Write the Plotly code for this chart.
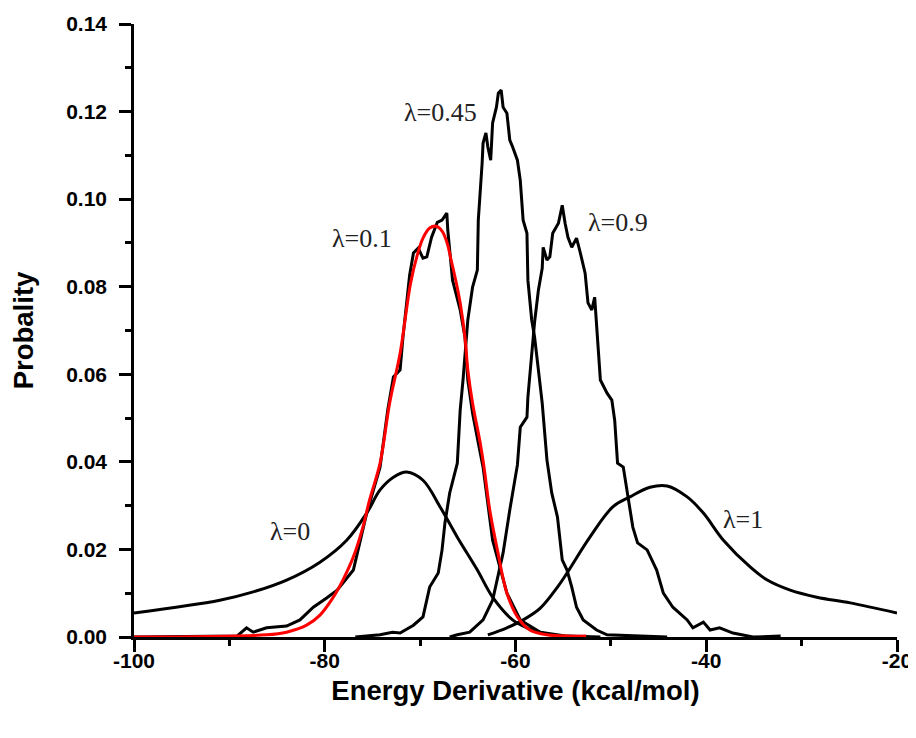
import plotly.graph_objects as go

# ---- data ----
lam0_x = [-100, -91.0, -87.5, -84.0, -80.5, -77.7, -75.6, -74.2, -72.8, -71.4, -69.7, -67.9,
          -66.1, -64.0, -62.4, -60.3, -58.8, -56.4]
lam0_y = [0.0055, 0.0084, 0.0103, 0.0130, 0.0171, 0.0221, 0.0283, 0.0336, 0.0365, 0.0377, 0.0358, 0.0297,
          0.0228, 0.0153, 0.0091, 0.0039, 0.0021, 0.0005]

lam1_x = [-62.9, -60.9, -59.2, -57.4, -55.6, -54.6, -52.2, -49.8, -48.0, -45.9, -44.1, -42.0,
          -40.3, -38.2, -35.4, -33.6, -31.2, -28.4, -24.9, -20.0]
lam1_y = [0.0005, 0.0021, 0.0039, 0.0066, 0.0114, 0.0146, 0.0228, 0.0297, 0.0320, 0.0342, 0.0345, 0.0320,
          0.0283, 0.0221, 0.0160, 0.0130, 0.0107, 0.0091, 0.0078, 0.0055]

fit_x = [-100, -86.1, -84.0, -81.9, -80.5, -79.1, -78.1, -77.0, -76.0, -75.3, -74.2, -73.2, -72.1,
         -71.0, -70.3, -69.7, -69.0, -68.3, -67.7, -67.2, -66.7, -66.2, -65.8, -65.3, -65.0, -64.5,
         -63.7, -63.3, -62.7, -61.9, -60.9, -59.8, -58.5, -56.7, -52.6]
fit_y = [0.0, 0.0005, 0.0011, 0.0027, 0.0050, 0.0091, 0.0130, 0.0183, 0.0251, 0.0313, 0.0397, 0.0534, 0.0648,
         0.0808, 0.0872, 0.0911, 0.0934, 0.0938, 0.0927, 0.0902, 0.0856, 0.0808, 0.0763, 0.0685, 0.0610, 0.0534,
         0.0443, 0.0388, 0.0290, 0.0199, 0.0100, 0.0046, 0.0016, 0.0005, 0.0002]

lam01_x = [-100, -89.2, -88.2, -87.5, -86.1, -84.0, -82.6, -81.2, -79.8, -78.7, -77.0, -76.3, -75.6,
           -74.2, -73.4, -72.8, -72.1, -71.8, -71.4, -71.1, -70.7, -70.2, -69.7, -69.3, -68.8, -68.2,
           -67.7, -67.2, -67.1, -66.9, -66.6, -65.8, -65.3, -65.0, -64.5, -63.9, -63.4, -62.4, -60.9,
           -59.5, -57.4, -54.6, -51.1]
lam01_y = [0.0, 0.0002, 0.0021, 0.0011, 0.0021, 0.0025, 0.0039, 0.0068, 0.0089, 0.0107, 0.0153, 0.0215, 0.0283,
           0.0388, 0.0518, 0.0594, 0.0610, 0.0685, 0.0763, 0.0826, 0.0877, 0.0888, 0.0865, 0.0868, 0.0913, 0.0947,
           0.0952, 0.0968, 0.0929, 0.0877, 0.0815, 0.0747, 0.0685, 0.0587, 0.0511, 0.0443, 0.0388, 0.0221, 0.0100,
           0.0039, 0.0011, 0.0002, 0.0]

lam045_x = [-76.8, -75.3, -74.2, -72.9, -72.1, -70.7, -69.7, -69.0, -68.1, -67.7, -67.4, -66.9, -66.1,
            -65.8, -65.5, -65.0, -64.5, -64.0, -63.9, -63.5, -63.4, -63.1, -62.9, -62.6, -62.4, -62.0,
            -61.8, -61.5, -61.3, -60.9, -60.6, -60.3, -59.8, -59.5, -59.2, -58.8, -58.7, -58.3, -58.0,
            -57.6, -57.2, -56.7, -56.2, -55.6, -55.1, -54.6, -54.1, -53.6, -52.9, -51.5, -50.4, -46.9, -44.1]
lam045_y = [0.0, 0.0002, 0.0005, 0.0011, 0.0009, 0.0027, 0.0046, 0.0114, 0.0146, 0.0199, 0.0260, 0.0329, 0.0397,
            0.0518, 0.0587, 0.0724, 0.0799, 0.0838, 0.0952, 0.1082, 0.1128, 0.1151, 0.1119, 0.1089, 0.1174, 0.1210,
            0.1242, 0.1249, 0.1210, 0.1196, 0.1135, 0.1119, 0.1089, 0.1043, 0.0952, 0.0922, 0.0815, 0.0724, 0.0685,
            0.0610, 0.0534, 0.0404, 0.0329, 0.0274, 0.0176, 0.0153, 0.0114, 0.0068, 0.0039, 0.0016, 0.0005, 0.0002, 0.0]

lam09_x = [-66.9, -66.1, -64.8, -63.4, -62.4, -61.3, -60.6, -59.8, -59.5, -58.8, -58.7, -58.3, -58.0,
           -57.6, -57.2, -57.1, -56.7, -56.4, -56.1, -55.5, -55.1, -54.8, -54.5, -54.1, -53.6, -53.2,
           -52.7, -52.4, -52.0, -51.7, -51.5, -51.1, -50.4, -49.9, -49.6, -49.3, -48.7, -48.2, -47.7,
           -47.2, -46.2, -45.2, -44.5, -43.5, -42.0, -41.4, -40.3, -39.6, -38.6, -37.2, -35.1, -32.2]
lam09_y = [0.0, 0.0005, 0.0011, 0.0039, 0.0084, 0.0192, 0.0290, 0.0393, 0.0479, 0.0502, 0.0548, 0.0644, 0.0719,
           0.0792, 0.0842, 0.0890, 0.0861, 0.0868, 0.0922, 0.0945, 0.0986, 0.0945, 0.0913, 0.0890, 0.0911, 0.0877,
           0.0831, 0.0763, 0.0747, 0.0776, 0.0717, 0.0587, 0.0557, 0.0541, 0.0495, 0.0397, 0.0388, 0.0320, 0.0251,
           0.0215, 0.0199, 0.0153, 0.0100, 0.0068, 0.0039, 0.0021, 0.0034, 0.0016, 0.0021, 0.0009, 0.0, 0.0002]

label_text = ["λ=0.45", "λ=0.1", "λ=0.9", "λ=0", "λ=1"]
label_x = [-67.9, -76.1, -49.3, -83.6, -36.1]
label_y = [0.1199, 0.0911, 0.0947, 0.0240, 0.0269]

x_tickvals = [-100, -80, -60, -40, -20]
y_tickvals = [0.00, 0.02, 0.04, 0.06, 0.08, 0.10, 0.12, 0.14]

# ---- figure ----
fig = go.Figure()
black = dict(color="black", width=3)
fig.add_trace(go.Scatter(x=lam0_x, y=lam0_y, mode="lines", line=dict(shape="spline", **black)))
fig.add_trace(go.Scatter(x=lam1_x, y=lam1_y, mode="lines", line=dict(shape="spline", **black)))
fig.add_trace(go.Scatter(x=lam01_x, y=lam01_y, mode="lines", line=black))
fig.add_trace(go.Scatter(x=lam045_x, y=lam045_y, mode="lines", line=black))
fig.add_trace(go.Scatter(x=lam09_x, y=lam09_y, mode="lines", line=black))
fig.add_trace(go.Scatter(x=fit_x, y=fit_y, mode="lines",
                         line=dict(color="#ff0000", width=3, shape="spline")))

for t, x, y in zip(label_text, label_x, label_y):
    fig.add_annotation(x=x, y=y, text=t, showarrow=False, xref="x", yref="y",
                       font=dict(family="Liberation Serif", size=26, color="#222"))

axis_font = dict(family="Liberation Sans", size=21, color="black", weight="bold")
title_font = dict(family="Liberation Sans", size=27.5, color="black", weight="bold")
# the page body adds an 8px offset; the figure is sized so the plot area lands where the reference has it
fig.update_layout(
    width=908, height=722,
    margin=dict(l=126, r=19, t=16, b=93),
    paper_bgcolor="white", plot_bgcolor="white",
    showlegend=False,
    xaxis=dict(range=[-100, -20], tickvals=x_tickvals, ticktext=[str(v) for v in x_tickvals],
               automargin=False, ticklabeloverflow="allow",
               showgrid=False, zeroline=False, showline=True, linecolor="black", linewidth=2.5,
               ticks="outside", ticklen=12, tickwidth=2.5, tickcolor="black",
               tickfont=axis_font, ticklabelstandoff=-9,
               minor=dict(dtick=10, tick0=-100, ticks="outside", ticklen=6, tickwidth=2.5, tickcolor="black"),
               title=dict(text="Energy Derivative (kcal/mol)", standoff=10, font=title_font)),
    yaxis=dict(range=[0, 0.14], tickvals=y_tickvals, ticktext=["%.2f" % v for v in y_tickvals],
               automargin=False,
               showgrid=False, zeroline=False, showline=True, linecolor="black", linewidth=2.5,
               ticks="outside", ticklen=12, tickwidth=2.5, tickcolor="black",
               tickfont=axis_font, ticklabelstandoff=8,
               minor=dict(dtick=0.01, tick0=0, ticks="outside", ticklen=6, tickwidth=2.5, tickcolor="black"),
               title=dict(text="Probality", standoff=35, font=title_font)),
)

fig.write_html("out.html")
